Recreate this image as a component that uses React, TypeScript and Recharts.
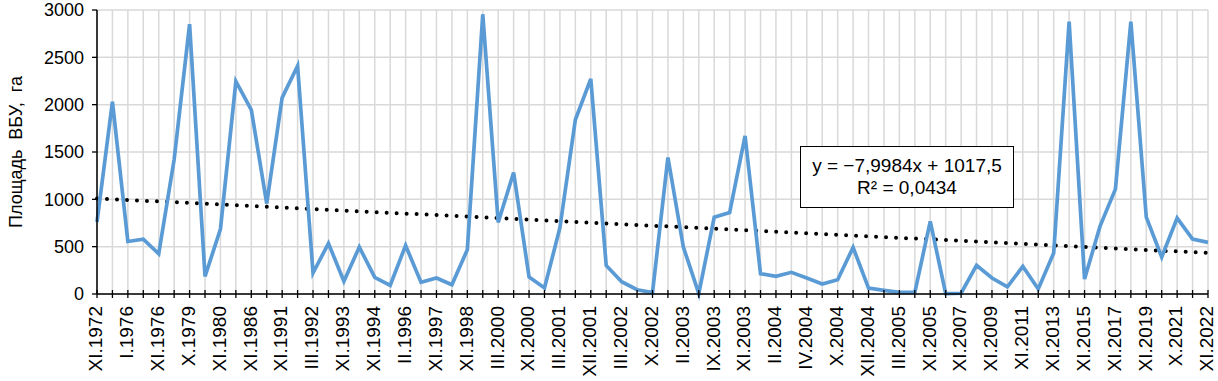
import React from 'react';
import { LineChart, Line, XAxis, YAxis, CartesianGrid, ReferenceLine } from 'recharts';

const tickLabels: string[] = [
  'XI.1972', 'I.1976', 'XI.1976', 'X.1979', 'XI.1980', 'XI.1986', 'XI.1991', 'III.1992',
  'XI.1993', 'XI.1994', 'II.1996', 'XI.1997', 'XI.1998', 'III.2000', 'XI.2000', 'III.2001',
  'XII.2001', 'III.2002', 'X.2002', 'II.2003', 'IX.2003', 'XI.2003', 'II.2004', 'IV.2004',
  'X.2004', 'XII.2004', 'III.2005', 'XI.2005', 'XI.2007', 'XI.2009', 'XI.2011', 'XI.2013',
  'XI.2015', 'XI.2017', 'XI.2019', 'X.2021', 'XI.2022',
];

const areaValues: number[] = [
  760, 2030, 555, 580, 425, 1420, 2850, 185, 686, 2245,
  1945, 955, 2075, 2410, 222, 535, 134, 496, 176, 91,
  513, 123, 169, 98, 468, 2955, 756, 1284, 180, 63,
  700, 1840, 2272, 302, 130, 45, 15, 1442, 496, 5,
  812, 860, 1670, 215, 186, 229, 169, 106, 151, 492,
  63, 39, 18, 18, 767, 3, 8, 302, 169, 76,
  292, 53, 433, 2877, 158, 714, 1108, 2877, 812, 390,
  802, 580, 545,
];

const yTicks: number[] = [0, 500, 1000, 1500, 2000, 2500, 3000];
const trendEnds: number[] = [1009.5, 433.6];
const trendText: string[] = ['y = −7,9984x + 1017,5', 'R² = 0,0434'];
const yTitle = 'Площадь  ВБУ,  га';

const data = areaValues.map((v, i) => ({ idx: i, area: v }));
const xTicks = areaValues.map((_, i) => i);
const lastIdx = areaValues.length - 1;

const FONT = '"Liberation Sans", Arial, sans-serif';

const XTick = (props: any) => {
  const { x, y, payload } = props;
  const i = payload.value as number;
  const label = i % 2 === 0 ? tickLabels[i / 2] : '';
  return (
    <g>
      <line x1={x} y1={y - 4} x2={x} y2={y + 4} stroke="#000" strokeWidth={1.3} />
      {label ? (
        <text
          transform={`translate(${x},${y + 12}) rotate(-90)`}
          textAnchor="end"
          dy="0.28em"
          fontSize={19}
          fontFamily={FONT}
          fill="#000"
        >
          {label}
        </text>
      ) : null}
    </g>
  );
};

const YLabel = (props: any) => {
  const vb = props.viewBox || { x: 0, y: 0, width: 0, height: 0 };
  const cx = 16;
  const cy = vb.y + vb.height / 2;
  return (
    <text
      transform={`translate(${cx},${cy}) rotate(-90)`}
      textAnchor="middle"
      dy="0.36em"
      fontSize={18}
      fontFamily={FONT}
      fill="#000"
      style={{ whiteSpace: 'pre' }}
      xmlSpace="preserve"
    >
      {yTitle}
    </text>
  );
};

export default function App() {
  return (
    <div style={{ position: 'absolute', left: 0, top: 0, width: 1218, height: 381, background: '#fff' }}>
      <LineChart
        width={1218}
        height={381}
        data={data}
        margin={{ top: 10, right: 10, left: 0, bottom: 0 }}
      >
        <CartesianGrid stroke="#d9d9d9" strokeWidth={1.5} />
        <XAxis
          dataKey="idx"
          type="number"
          domain={[0, lastIdx]}
          ticks={xTicks}
          interval={0}
          height={87}
          tickLine={false}
          tickSize={0}
          tickMargin={0}
          axisLine={{ stroke: '#000', strokeWidth: 1.5 }}
          tick={<XTick />}
        />
        <YAxis
          type="number"
          domain={[0, 3000]}
          ticks={yTicks}
          interval={0}
          width={97}
          tickSize={5}
          tickMargin={8}
          tickLine={{ stroke: '#000', strokeWidth: 1.3 }}
          axisLine={{ stroke: '#000', strokeWidth: 1.5 }}
          tick={{ fontSize: 18, fontFamily: FONT, fill: '#000' }}
          label={{ content: (p: any) => <YLabel {...p} /> }}
        />
        <ReferenceLine
          segment={[{ x: 0, y: trendEnds[0] }, { x: lastIdx, y: trendEnds[1] }]}
          stroke="#000"
          strokeWidth={4}
          strokeDasharray="0 10"
          strokeLinecap="round"
          ifOverflow="visible"
        />
        <Line
          type="linear"
          dataKey="area"
          stroke="#5b9bd5"
          strokeWidth={3.7}
          dot={false}
          activeDot={false}
          isAnimationActive={false}
        />
      </LineChart>
      <div
        style={{
          position: 'absolute',
          left: 800,
          top: 146,
          width: 212,
          height: 60,
          border: '1.5px solid #000',
          background: '#fff',
          fontFamily: FONT,
          fontSize: 19,
          lineHeight: '22px',
          textAlign: 'center',
          color: '#000',
          display: 'flex',
          flexDirection: 'column',
          justifyContent: 'center',
        }}
      >
        <div>{trendText[0]}</div>
        <div>{trendText[1]}</div>
      </div>
    </div>
  );
}
